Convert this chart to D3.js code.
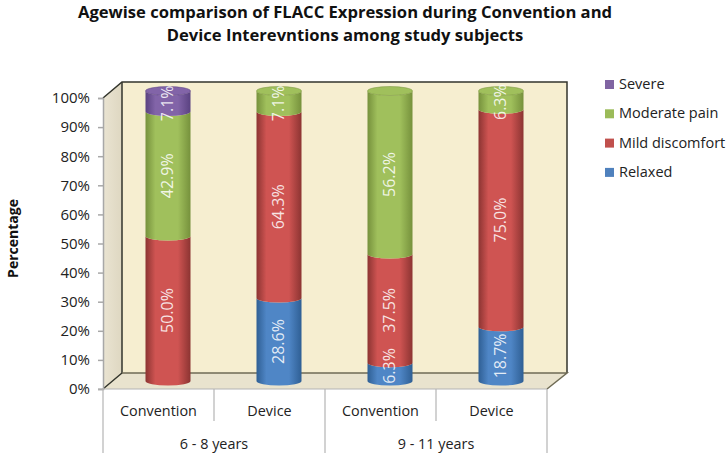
<!DOCTYPE html>
<html>
<head>
<meta charset="utf-8">
<script src="https://cdn.jsdelivr.net/npm/d3@7"></script>
<style>
  html, body { margin: 0; padding: 0; background: #fff; }
  svg { display: block; font-family: "Open Sans", sans-serif; }
</style>
</head>
<body>
<svg id="chart" width="726" height="461"></svg>
<script>
const titleLines = ['Agewise comparison of FLACC Expression during Convention and', 'Device Interevntions among study subjects'];
const groups = ['6 - 8 years', '9 - 11 years'];
const bars = ['Convention', 'Device', 'Convention', 'Device'];
const seriesNames = ['Relaxed', 'Mild discomfort', 'Moderate pain', 'Severe'];
const relaxed = [0, 28.6, 6.3, 18.7];
const mild = [50.0, 64.3, 37.5, 75.0];
const moderate = [42.9, 7.1, 56.2, 6.3];
const severe = [7.1, 0, 0, 0];
const yTicks = [0, 10, 20, 30, 40, 50, 60, 70, 80, 90, 100];

// colours: side, middle of each cylinder
const colors = {
  'Relaxed': ['#2f5f94', '#4f86c6'],
  'Mild discomfort': ['#8c3432', '#cf5452'],
  'Moderate pain': ['#76913c', '#a0c05c'],
  'Severe': ['#5a4281', '#8264a8']
};
const legendColors = { 'Relaxed': '#4f81bd', 'Mild discomfort': '#c0504d', 'Moderate pain': '#9bbb59', 'Severe': '#8064a2' };

const svg = d3.select('#chart');
const plotLeft = 103, plotRight = 547, plotTop = 98, plotBottom = 389, depthX = 19, depthY = 16;

const x = d3.scaleBand().domain(d3.range(bars.length)).range([plotLeft, plotRight]);
const y = d3.scaleLinear().domain([0, 100]).range([plotBottom, plotTop]);
// bars stand in the middle of the floor, so they use a shifted scale
const yBar = d3.scaleLinear().domain([0, 100]).range([plotBottom - 8, plotTop - 7]);
const barX = i => x(i) + x.bandwidth() / 2 + 9.5;
const rx = 22.5, ry = 4.5;

// gradients for the cylinders
const defs = svg.append('defs');
seriesNames.forEach((name, i) => {
  const g = defs.append('linearGradient').attr('id', 'grad' + i);
  g.append('stop').attr('offset', '0%').attr('stop-color', colors[name][0]);
  g.append('stop').attr('offset', '22%').attr('stop-color', colors[name][1]);
  g.append('stop').attr('offset', '72%').attr('stop-color', colors[name][1]);
  g.append('stop').attr('offset', '100%').attr('stop-color', colors[name][0]);
});
const wallGrad = defs.append('linearGradient').attr('id', 'sideWall');
wallGrad.append('stop').attr('offset', '0%').attr('stop-color', '#eae4d2');
wallGrad.append('stop').attr('offset', '100%').attr('stop-color', '#ded7c1');

// walls and floor
svg.append('polygon')
  .attr('points', [[plotLeft + depthX, plotTop - depthY], [plotRight + depthX + 1, plotTop - depthY], [plotRight + depthX + 1, plotBottom - depthY], [plotLeft + depthX, plotBottom - depthY]].join(' '))
  .attr('fill', '#f6eed0');
svg.append('polygon')
  .attr('points', [[plotLeft, plotTop], [plotLeft + depthX, plotTop - depthY], [plotLeft + depthX, plotBottom - depthY], [plotLeft, plotBottom]].join(' '))
  .attr('fill', 'url(#sideWall)');
svg.append('polygon')
  .attr('points', [[plotLeft, plotBottom], [plotLeft + depthX, plotBottom - depthY], [plotRight + depthX + 1, plotBottom - depthY], [plotRight, plotBottom]].join(' '))
  .attr('fill', '#e9e3ce');

const edges = svg.append('g').attr('fill', 'none').attr('stroke', '#33352c').attr('stroke-width', 1.5);
edges.append('path').attr('d', `M${plotLeft},${plotTop}L${plotLeft + depthX},${plotTop - depthY}H${plotRight + depthX + 1}V${plotBottom - depthY}`);
edges.append('path').attr('d', `M${plotLeft + depthX},${plotTop - depthY}V${plotBottom - depthY}L${plotLeft},${plotBottom}`);
svg.append('path')
  .attr('d', `M${plotLeft + depthX},${plotBottom - depthY}H${plotRight + depthX + 1}L${plotRight},${plotBottom}`)
  .attr('fill', 'none').attr('stroke', '#6f6b55').attr('stroke-width', 1.5);

// y axis
const yAxis = svg.append('g')
  .attr('transform', `translate(${plotLeft},0)`)
  .call(d3.axisLeft(y).tickValues(yTicks).tickFormat(d => d + '%').tickSize(5).tickPadding(8));
yAxis.selectAll('text').attr('font-size', 15).attr('fill', '#222').attr('font-family', '"Open Sans", sans-serif');
yAxis.selectAll('line,path').attr('stroke', '#a8a8a8').attr('stroke-width', 1.5);

// stacked cylinders
const rows = bars.map((b, i) => ({ index: i, 'Relaxed': relaxed[i], 'Mild discomfort': mild[i], 'Moderate pain': moderate[i], 'Severe': severe[i] }));
const stacked = d3.stack().keys(seriesNames)(rows);

stacked.forEach((layer, s) => {
  const g = svg.append('g');
  const drawn = layer.map((d, i) => ({ y0: d[0], y1: d[1], i })).filter(d => d.y1 > d.y0);
  g.selectAll('path.seg').data(drawn).join('path')
    .attr('class', 'seg')
    .attr('fill', `url(#grad${s})`)
    .attr('d', d => {
      const cx = barX(d.i), yb = yBar(d.y0), yt = yBar(d.y1);
      return `M${cx - rx},${yt}A${rx},${ry} 0 0 0 ${cx + rx},${yt}V${yb}A${rx},${ry} 0 0 1 ${cx - rx},${yb}Z`;
    });
  // flat lid on whatever segment ends the bar
  g.selectAll('ellipse').data(drawn.filter(d => Math.abs(d.y1 - 100) < 0.01)).join('ellipse')
    .attr('cx', d => barX(d.i))
    .attr('cy', d => yBar(d.y1))
    .attr('rx', rx).attr('ry', ry)
    .attr('fill', colors[seriesNames[s]][1])
    .attr('stroke', colors[seriesNames[s]][0]).attr('stroke-width', 0.5);
});

// data labels go on top of all segments, kept inside the foot of the bar
stacked.forEach(layer => {
  layer.forEach((d, i) => {
    if (d[1] <= d[0]) return;
    const ly = Math.min(yBar((d[0] + d[1]) / 2) + 2, 366);
    svg.append('text')
      .attr('transform', `translate(${barX(i) + 5},${ly}) rotate(-90)`)
      .attr('text-anchor', 'middle')
      .attr('font-size', 16)
      .attr('fill', '#fff')
      .attr('fill-opacity', 0.85)
      .text((d[1] - d[0]).toFixed(1) + '%');
  });
});

// two level category axis
const axisLines = svg.append('g').attr('stroke', '#b4b4b4').attr('stroke-width', 1.2);
d3.range(bars.length + 1).forEach(i => {
  const px = plotLeft + i * x.bandwidth();
  axisLines.append('line')
    .attr('x1', px).attr('x2', px)
    .attr('y1', plotBottom).attr('y2', i % 2 === 0 ? 453 : 421);
});
axisLines.append('line').attr('x1', plotLeft - 5).attr('x2', plotRight).attr('y1', plotBottom).attr('y2', plotBottom);

svg.selectAll('text.bar').data(bars).join('text')
  .attr('class', 'bar')
  .attr('x', (d, i) => x(i) + x.bandwidth() / 2)
  .attr('y', 416)
  .attr('text-anchor', 'middle')
  .attr('font-size', 14.4)
  .attr('fill', '#222')
  .text(d => d);

svg.selectAll('text.group').data(groups).join('text')
  .attr('class', 'group')
  .attr('x', (d, i) => x(i * 2) + x.bandwidth())
  .attr('y', 449)
  .attr('text-anchor', 'middle')
  .attr('font-size', 14.4)
  .attr('fill', '#222')
  .text(d => d);

// title
svg.selectAll('text.title').data(titleLines).join('text')
  .attr('class', 'title')
  .attr('x', 345)
  .attr('y', (d, i) => 18 + i * 22.5)
  .attr('text-anchor', 'middle')
  .attr('font-size', 16.6)
  .attr('font-weight', 'bold')
  .attr('fill', '#111')
  .text(d => d);

// y axis title
svg.append('text')
  .attr('transform', 'translate(18,238.5) rotate(-90)')
  .attr('text-anchor', 'middle')
  .attr('font-size', 14)
  .attr('font-weight', 'bold')
  .attr('fill', '#111')
  .text('Percentage');

// legend, top entry is the top series
const legend = svg.selectAll('g.legend').data(seriesNames.slice().reverse()).join('g')
  .attr('class', 'legend')
  .attr('transform', (d, i) => `translate(605,${84 + i * 29.3})`);
legend.append('rect').attr('x', 0).attr('y', -4).attr('width', 9).attr('height', 9).attr('fill', d => legendColors[d]);
legend.append('text').attr('x', 14).attr('y', 5).attr('font-size', 14.5).attr('fill', '#222').text(d => d);
</script>
</body>
</html>
